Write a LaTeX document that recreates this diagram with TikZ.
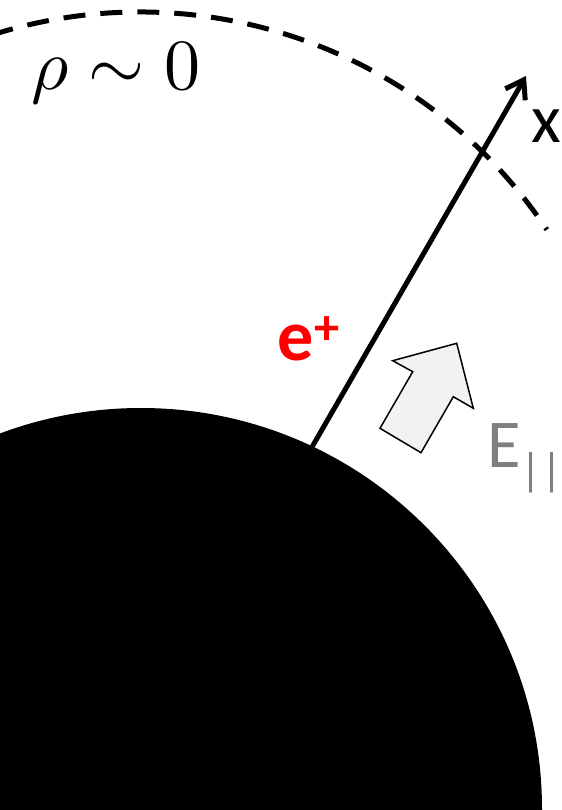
\documentclass[tikz,border=0pt]{standalone}
\usepackage{fontspec}
\usepackage{graphicx}
\usepackage{tikz}
\usetikzlibrary{arrows.meta,positioning}
\newfontfamily\calfont{Carlito}
\definecolor{egray}{HTML}{7F7F7F}
\definecolor{efill}{HTML}{F2F2F2}
\definecolor{ered}{HTML}{FF0000}

\begin{document}
\begin{tikzpicture}[x=0.02cm, y=-0.02cm,
    shell/.style={dashed, line width=0.1cm, dash pattern=on 0.44cm off 0.3cm, dash phase=0.34cm},
    axis/.style={-{Straight Barb[length=0.34cm, width=0.46cm, line width=0.1cm]}, line width=0.1cm},
    field/.style={draw=black, fill=efill, line width=0.03cm, line join=miter},
    lbl/.style={inner sep=0pt, font=\calfont\fontsize{39}{44}\selectfont}
]
    \clip (0,0) rectangle (561,810);

    % star surface
    \fill[black] (141,809) circle (401);

    % light cylinder / outer gap boundary
    \draw[shell] (140,501) ++(-110:489) arc[start angle=-110, end angle=-33.7, radius=489];

    % magnetic field line
    \coordinate (base) at (312,447);
    \coordinate (tip) at (526,76);
    \draw[axis] (base) -- (tip);

    % parallel field arrow
    \draw[field] (456.7,343.3) -- (473.3,408.3) -- (453.3,396.7) -- (421,452.7)
        -- (380,428.3) -- (412.7,371.7) -- (392.7,360.7) -- cycle;

    % Labels
    \node[inner sep=0pt, anchor=base] (rho) at (116,90) {\scalebox{4.1}{$\rho\sim0$}};
    \node[lbl, anchor=base] (xlab) at (546,143) {x};
    \node[lbl, anchor=base, text=ered, font=\calfont\bfseries\fontsize{41}{44}\selectfont] (pos) at (309,360) {e\textsuperscript{+}};
    \node[lbl, anchor=base west, text=egray] (epar) at (487,467) {E{\fontsize{26}{26}\selectfont\raisebox{-0.36cm}{||}}};

\end{tikzpicture}
\end{document}
